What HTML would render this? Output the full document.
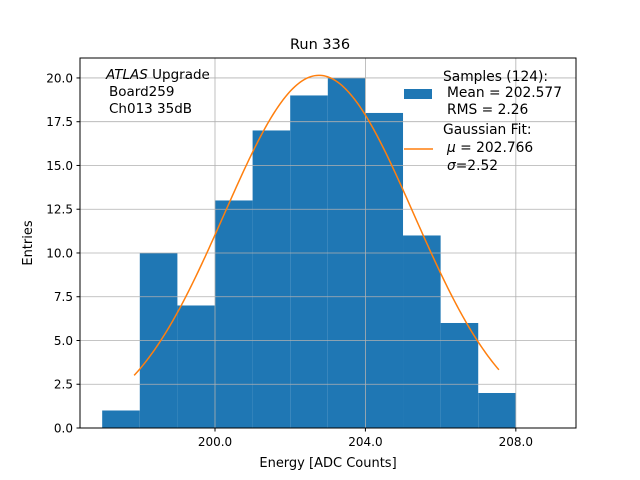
<!DOCTYPE html>
<html><head><meta charset="utf-8"><style>
body{margin:0;background:#fff}
svg{display:block;font-family:"DejaVu Sans","Liberation Sans",sans-serif}
</style></head><body>
<svg id="chart" width="640" height="480">
<rect width="640" height="480" fill="#fff"/>
<g id="bars"></g>
<g id="grid"></g>
<g id="fit"></g>
<rect x="80" y="58" width="496" height="370" fill="none" stroke="#000" stroke-width="1"/>
<g id="ticks"></g>
<text x="320" y="49" font-size="14.5" text-anchor="middle">Run 336</text>
<text x="328" y="467" font-size="13" text-anchor="middle">Energy [ADC Counts]</text>
<text x="32" y="243" font-size="13" text-anchor="middle" transform="rotate(-90 32 243)">Entries</text>
<g font-size="13.5">
<text x="106" y="79"><tspan font-style="italic">ATLAS</tspan> Upgrade</text>
<text x="109" y="96">Board259</text>
<text x="109" y="113">Ch013 35dB</text>
</g>
<g font-size="13.8">
<rect x="404" y="89" width="28" height="10" fill="#1f77b4"/>
<text x="443" y="81">Samples (124):</text>
<text x="447" y="97">Mean = 202.577</text>
<text x="447" y="114">RMS = 2.26</text>
<line x1="404" y1="149" x2="433" y2="149" stroke="#ff7f0e" stroke-width="1.5"/>
<text x="443" y="134">Gaussian Fit:</text>
<text x="447" y="152"><tspan font-style="italic">μ</tspan> = 202.766</text>
<text x="447" y="170"><tspan font-style="italic">σ</tspan>=2.52</text>
</g>
</svg>
<script>
const binStarts=[197,198,199,200,201,202,203,204,205,206,207];
const counts=[1,10,7,13,17,19,20,18,11,6,2];
const xTicks=[200,204,208];
const xTickLabels=["200.0","204.0","208.0"];
const yTicks=[0,2.5,5,7.5,10,12.5,15,17.5,20];
const yTickLabels=["0.0","2.5","5.0","7.5","10.0","12.5","15.0","17.5","20.0"];
const fitMu=202.766, fitSigma=2.52, fitAmp=20.15, fitRange=[197.85,207.55];

const X0=80,X1=576,Y0=428,Y1=58;
const xMin=196.41,xMax=209.6,yMin=0,yMax=21.14;
const sx=v=>X0+(v-xMin)/(xMax-xMin)*(X1-X0);
const sy=v=>Y0-(v-yMin)/(yMax-yMin)*(Y0-Y1);
const NS="http://www.w3.org/2000/svg";
function mk(tag,attrs,parent){const e=document.createElementNS(NS,tag);for(const k in attrs)e.setAttribute(k,attrs[k]);parent.appendChild(e);return e;}
const bars=document.getElementById('bars'),grid=document.getElementById('grid'),ticks=document.getElementById('ticks'),fit=document.getElementById('fit');
binStarts.forEach((b,i)=>{
  const r=mk('rect',{x:sx(b),y:sy(counts[i]),width:sx(b+1)-sx(b),height:sy(0)-sy(counts[i]),fill:'#1f77b4'},bars);
  
  
});
xTicks.forEach((t,i)=>{
  const x=sx(t);
  const g=mk('line',{x1:x,x2:x,y1:Y1,y2:Y0,stroke:'#b0b0b0','stroke-width':0.8},grid);
  
  
  mk('line',{x1:x,x2:x,y1:Y0,y2:Y0+3.5,stroke:'#000'},ticks);
  const tx=mk('text',{x:x,y:Y0+18,'font-size':12,'text-anchor':'middle'},ticks);
  tx.textContent=xTickLabels[i];
  
  
});
yTicks.forEach((t,i)=>{
  const y=sy(t);
  const g=mk('line',{x1:X0,x2:X1,y1:y,y2:y,stroke:'#b0b0b0','stroke-width':0.8},grid);
  
  
  mk('line',{x1:X0-3.5,x2:X0,y1:y,y2:y,stroke:'#000'},ticks);
  const tx=mk('text',{x:X0-7,y:y+4.5,'font-size':12,'text-anchor':'end'},ticks);
  tx.textContent=yTickLabels[i];
  
  
});
let d='';
for(let k=0;k<=200;k++){
  const v=fitRange[0]+(fitRange[1]-fitRange[0])*k/200;
  const y=fitAmp*Math.exp(-((v-fitMu)**2)/(2*fitSigma*fitSigma));
  d+=(k?'L':'M')+sx(v).toFixed(2)+','+sy(y).toFixed(2);
}
const p=mk('path',{d:d,fill:'none',stroke:'#ff7f0e','stroke-width':1.5},fit);


</script>
</body></html>
